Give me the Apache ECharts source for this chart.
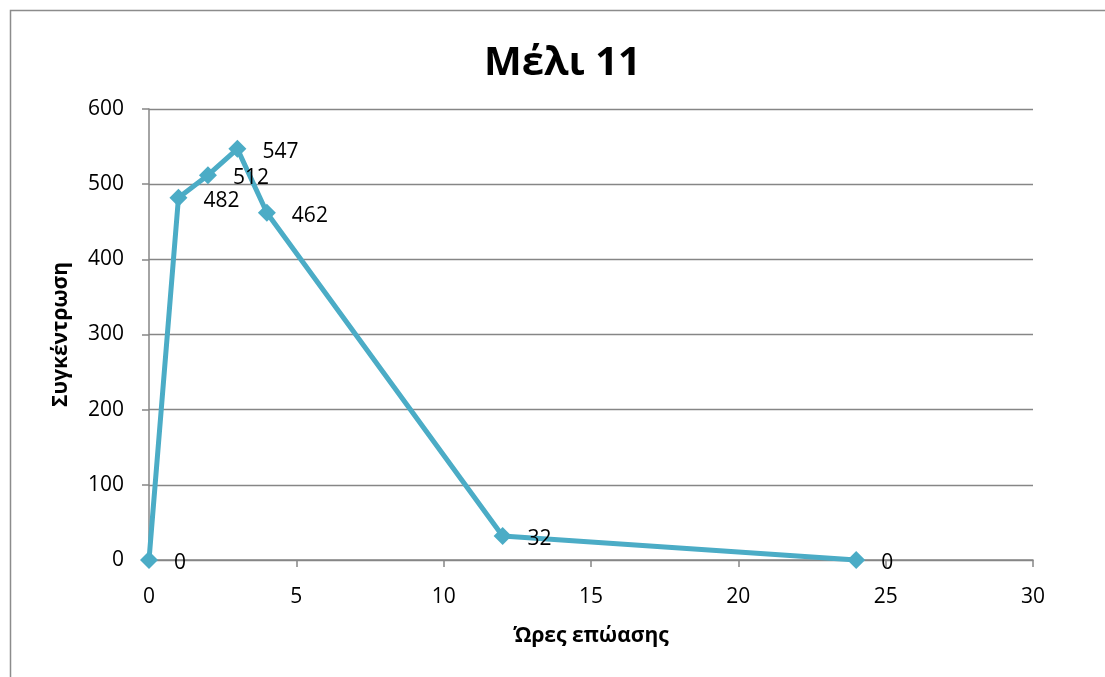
<!DOCTYPE html>
<html><head><meta charset="utf-8">
<script src="https://cdn.jsdelivr.net/npm/echarts@6/dist/echarts.min.js"></script>
<style>html,body{margin:0;padding:0;background:#fff}#c{width:1105px;height:677px}</style>
</head><body><div id="c"></div>
<script>
const title = 'Μέλι 11';
const xName = 'Ώρες επώασης';
const yName = 'Συγκέντρωση';
const hours = [0, 1, 2, 3, 4, 12, 24];
const conc = [0, 482, 512, 547, 462, 32, 0];
const font = 'Open Sans';
const chart = echarts.init(document.getElementById('c'));
chart.setOption({
  animation: false,
  backgroundColor: '#fff',
  graphic: [{type:'rect', shape:{x:10.5,y:10.5,width:1200,height:800}, style:{fill:'none', stroke:'#8c8c8c', lineWidth:1.5}, silent:true}],
  title: {text: title, left: 479, top: 39, textStyle:{fontFamily:font, fontSize:40, fontWeight:'bold', color:'#000'}},
  grid: {left:149, right:72, top:109, bottom:117},
  xAxis: {type:'value', min:0, max:30, interval:5, name:xName, nameLocation:'middle', nameGap:66,
    nameTextStyle:{fontFamily:font, fontSize:21, fontWeight:'bold', color:'#000'},
    axisLine:{show:true, lineStyle:{color:'#868686', width:1.5}},
    axisTick:{show:true, inside:false, length:7, lineStyle:{color:'#868686', width:1.5}},
    axisLabel:{fontFamily:font, fontSize:21, color:'#000', margin:27},
    splitLine:{show:false}},
  yAxis: {type:'value', min:0, max:600, interval:100, name:yName, nameLocation:'middle', nameGap:77, nameRotate:90,
    nameTextStyle:{fontFamily:font, fontSize:21, fontWeight:'bold', color:'#000'},
    axisLine:{show:true, lineStyle:{color:'#868686', width:1.5}},
    axisTick:{show:true, inside:false, length:7, lineStyle:{color:'#868686', width:1.5}},
    axisLabel:{fontFamily:font, fontSize:21, color:'#000', margin:25},
    splitLine:{show:true, lineStyle:{color:'#868686', width:1.3}}},
  series: [{type:'line', data: hours.map((h,i)=>[h,conc[i]]),
    symbol:'diamond', symbolSize:18, showAllSymbol:true,
    lineStyle:{color:'#4BACC6', width:5}, itemStyle:{color:'#4BACC6'},
    label:{show:true, position:'right', distance:16, offset:[0,3], fontFamily:font, fontSize:21, color:'#000',
      formatter: p => p.value[1]}}]
});
</script></body></html>
